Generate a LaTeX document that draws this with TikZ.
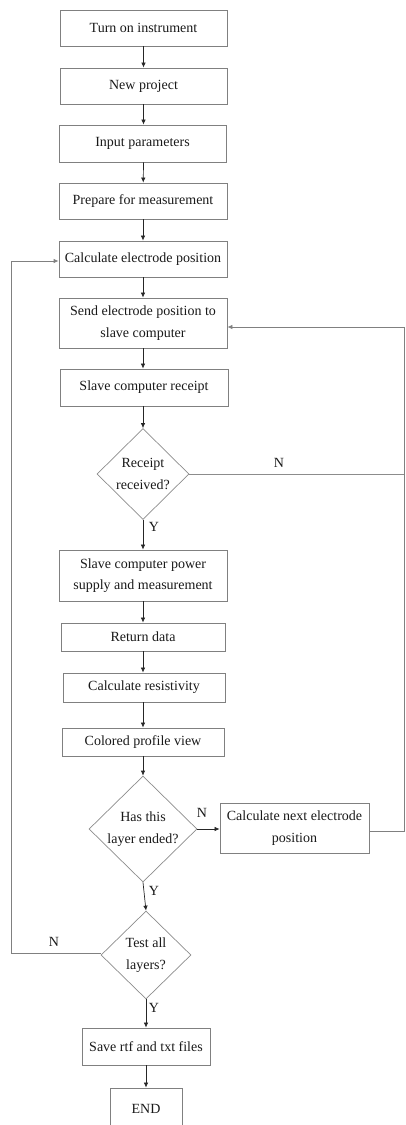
\documentclass[tikz,border=0pt]{standalone}
\usepackage{fontspec}
\setmainfont{Liberation Serif}
\usetikzlibrary{arrows.meta,shapes.geometric}
\begin{document}
\begin{tikzpicture}[x=1pt,y=-1pt,
  every node/.style={font=\fontsize{14}{21.5}\selectfont, text=black!90},
  box/.style={draw=black!50, line width=0.8pt, minimum width=#1, inner sep=0pt, align=center},
  box/.default=167,
  dia/.style={draw=black!45, line width=0.7pt, diamond, inner sep=0pt, align=center},
  arr/.style={draw=black!85, line width=0.7pt, -{Latex[length=5pt,width=4.5pt]}},
  fb/.style={draw=black!45, line width=0.8pt},
  fbarr/.style={fb, -{Latex[length=5pt,width=4.5pt]}, draw=black!50},
  lab/.style={inner sep=0pt}
]
\useasboundingbox (0,0) rectangle (405,1125);
\clip (0,0) rectangle (405,1125);

\node[box, minimum height=36] (turn) at (143.5,28) {Turn on instrument};
\node[box, minimum height=36] (newp) at (143.5,86) {New project};
\node[box, minimum height=37] (inp) at (142.5,143.5) {Input parameters};
\node[box=168, minimum height=36] (prep) at (143,201) {Prepare for measurement};
\node[box=168, minimum height=36] (calc) at (143,259) {Calculate electrode position};
\node[box=168, minimum height=50] (send) at (143,323) {Send electrode position to\\slave computer};
\node[box=168, minimum height=37] (rcpt) at (144,387.5) {Slave computer receipt};
\node[dia, minimum width=92, minimum height=91] (d1) at (143,474) {Receipt\\received?};
\node[box=168, minimum height=51] (pow) at (143,575.5) {Slave computer power\\supply and measurement};
\node[box=164, minimum height=28] (ret) at (143,637) {Return data};
\node[box=162, minimum height=29] (res) at (144,687.5) {Calculate resistivity};
\node[box=162, minimum height=28] (col) at (143,742) {Colored profile view};
\node[dia, minimum width=108, minimum height=106] (d2) at (143,829) {Has this\\layer ended?};
\node[box=149, minimum height=50] (next) at (294.5,828) {Calculate next electrode\\position};
\node[dia, minimum width=90, minimum height=88] (d3) at (146,955) {Test all\\layers?};
\node[box=128, minimum height=37] (save) at (146,1046.5) {Save rtf and txt files};
\node[box=72, minimum height=42] (endn) at (146,1109) {END};

\coordinate (R) at (404,0);
\coordinate (L) at (11,0);

\draw[arr] (turn) -- (newp);
\draw[arr] (newp) -- (inp.north -| newp);
\draw[arr] (inp.south -| newp) -- (prep);
\draw[arr] (prep) -- (calc);
\draw[arr] (calc) -- (send);
\draw[arr] (send) -- (rcpt.north -| send);
\draw[arr] (rcpt.south -| d1) -- (d1);
\draw[arr] (d1) -- (pow);
\draw[arr] (pow) -- (ret);
\draw[arr] (ret) -- (res.north -| ret);
\draw[arr] (res.south -| col) -- (col);
\draw[arr] (col) -- (d2);
\draw[arr] (d2.east) -- (next.west |- d2.east);
\draw[arr] (d2.south) -- (d3.north);
\draw[arr] (d3) -- (save);
\draw[arr] (save) -- (endn);

\draw[fb] (d1.east) -- (d1.east -| R);
\draw[fbarr] (next.east |- 0,831) -- (R |- 0,831) |- (send.east |- 0,327);
\draw[fbarr] (d3.west |- 0,953) -- (L |- 0,953) |- (calc.west |- 0,261);

\node[lab] (n1) at (279,463) {N};
\node[lab] (y1) at (154,527) {Y};
\node[lab] (n2) at (202,813) {N};
\node[lab] (y2) at (154,891) {Y};
\node[lab] (n3) at (54,942) {N};
\node[lab] (y3) at (154,1008) {Y};
\end{tikzpicture}
\end{document}
